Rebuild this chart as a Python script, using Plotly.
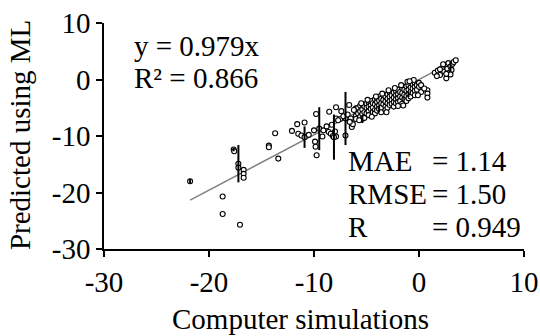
import plotly.graph_objects as go

# ---- data ----
sim = [
    -21.8, -18.7, -18.7, -17.05, -17.65, -17.6, -17.2, -17.2, -16.7, -16.7, -16.7,
    -14.3, -14.3, -13.7, -13.4, -12.1, -11.6, -11.5, -11.2, -10.9, -10.9, -10.5,
    -10.0, -9.9, -9.85, -9.75, -9.8, -9.5, -9.2, -9.1, -8.55, -8.6, -8.4, -8.2,
    -8.0, -7.9, -8.1, -7.9, -7.9, -7.5, -7.4, -7.0, -7.0, -6.65, -6.5, -6.4, -6.3,
    -6.0, -5.9,
    -6.0, -6.0, -6.0, -5.8, -5.8, -5.6, -5.6, -5.6, -5.4, -5.4, -5.4, -5.4,
    -5.2, -5.2, -5.2, -5.0, -5.0, -5.0, -4.8, -4.8, -4.8, -4.8,
    -4.6, -4.6, -4.6, -4.4, -4.4, -4.4, -4.2, -4.2, -4.2, -4.2,
    -4.0, -4.0, -4.0, -4.0, -3.8, -3.8, -3.8, -3.8, -3.6, -3.6, -3.6, -3.6,
    -3.4, -3.4, -3.4, -3.2, -3.2, -3.2, -3.2, -3.0, -3.0, -3.0, -3.0,
    -2.8, -2.8, -2.8, -2.8, -2.6, -2.6, -2.6, -2.4, -2.4, -2.4, -2.4,
    -2.2, -2.2, -2.2, -2.2, -2.0, -2.0, -2.0, -2.0, -1.8, -1.8, -1.8,
    -1.6, -1.6, -1.6, -1.6, -1.4, -1.4, -1.4, -1.3, -1.2, -1.2, -1.2, -1.2,
    -1.0, -1.0, -1.0, -1.0, -0.8, -0.8, -0.8, -0.6, -0.6, -0.6,
    -0.4, -0.4, -0.4, -0.4, -0.2, -0.2, 0.0, 0.0, 0.2, 0.2, 0.8, 0.8, 0.8,
    1.5, 1.8, 2.0, 2.2, 2.4, 2.5, 2.6, 2.7, 2.8, 2.9, 3.0, 3.1, 3.2, 3.3, 3.5,
    2.3, 2.0, 3.0, 1.7, 2.6,
    -5.5, -4.9, -4.1, -3.5, -2.9, -2.3, -1.7, -1.1, -0.5, -0.9, -6.2, -5.7,
    -4.5, -3.1, -2.0, -1.5, 0.5, -0.1, -8.8, -8.3, -7.7, -7.2, -6.8, -6.6,
]
pred = [
    -18.0, -20.7, -23.8, -25.7, -12.4, -12.7, -14.9, -15.6, -16.0, -16.7, -17.4,
    -11.7, -12.0, -9.5, -14.0, -9.1, -7.9, -9.6, -9.9, -7.6, -10.2, -9.8,
    -9.0, -11.0, -11.9, -13.4, -6.1, -8.7, -10.1, -9.0, -5.7, -9.3, -9.6, -10.0,
    -9.2, -10.1, -10.2, -4.9, -6.9, -7.0, -5.6, -6.9, -9.9, -4.5, -6.9, -8.4, -7.9,
    -5.1, -6.3,
    -5.2, -6.4, -7.0, -5.0, -6.0, -4.6, -5.6, -6.6, -4.4, -5.3, -6.1, -7.0,
    -4.8, -5.8, -6.8, -4.3, -5.0, -6.0, -4.0, -4.8, -5.6, -6.3,
    -3.8, -4.6, -5.2, -4.2, -5.0, -5.8, -3.5, -4.4, -5.4, -6.0,
    -3.3, -4.0, -4.8, -5.5, -3.0, -3.7, -4.6, -5.2, -3.4, -4.2, -5.0, -5.8,
    -2.8, -3.6, -4.4, -3.0, -3.9, -4.8, -5.4, -2.6, -3.4, -4.2, -5.0,
    -2.2, -3.0, -3.8, -4.5, -2.8, -3.6, -4.3, -2.3, -3.2, -4.0, -4.8,
    -2.0, -2.8, -3.5, -4.2, -1.8, -2.6, -3.3, -4.0, -2.2, -3.0, -3.8,
    -1.5, -2.4, -3.2, -4.3, -1.8, -2.7, -3.5, -3.5, -1.2, -2.0, -2.9, -3.8,
    -1.0, -1.8, -2.6, -3.3, -1.4, -2.2, -3.0, -0.9, -1.6, -2.4,
    -0.7, -1.3, -2.0, -2.8, -1.0, -1.8, -0.6, -1.3, -1.0, -2.2, -1.9, -2.5, -3.2,
    1.2, 1.6, 0.8, 2.0, 1.4, 2.6, 0.2, 1.9, 2.9, 1.2, 2.3, 1.7, 2.8, 3.1, 3.4,
    2.7, 1.8, 0.9, 0.6, 1.0,
    -4.2, -3.6, -3.0, -2.5, -1.9, -1.5, -1.0, -0.4, -0.1, -0.3, -5.4, -7.2,
    -6.6, -5.8, -4.7, -4.6, -1.6, -2.8, -8.3, -8.0, -7.2, -6.5, -6.2, -7.5,
]
err = [0.0] * len(sim)
err_points = {0: 0.4, 4: 0.3, 6: 3.3, 20: 1.9, 27: 3.8, 36: 4.0, 41: 4.7,
              60: 0.7, 88: 0.6, 140: 0.5, 171: 0.9}
for i, e in err_points.items():
    err[i] = e

slope = 0.979
r2_label = "R² = 0.866"
eq_label = "y = 0.979x"
stat_names = ["MAE", "RMSE", "R"]
stat_values = ["= 1.14", "= 1.50", "= 0.949"]
stat_y = [-14.4, -20.2, -26.1]

tick_vals = [-30, -20, -10, 0, 10]
tick_text = ["-30", "-20", "-10", "0", "10"]

FONT = "Liberation Serif, Times New Roman, serif"
FS = 29

fig = go.Figure()

fit_x = [min(sim), max(sim)]
fig.add_trace(go.Scatter(
    x=fit_x, y=[slope * v for v in fit_x], mode="lines",
    line=dict(color="#808080", width=1.5), hoverinfo="skip", showlegend=False,
))

fig.add_trace(go.Scatter(
    x=sim, y=pred, mode="markers",
    marker=dict(symbol="circle", size=5, color="white",
                line=dict(color="black", width=1.1)),
    showlegend=False,
))

# error bars drawn on top of the circles
fig.add_trace(go.Scatter(
    x=sim, y=pred, mode="markers",
    marker=dict(size=1, opacity=0),
    error_y=dict(type="data", array=err, visible=True, color="black",
                 thickness=2, width=0),
    hoverinfo="skip", showlegend=False,
))

annotations = [
    dict(x=-27.3, y=5.9, text=eq_label, xanchor="left", yanchor="middle",
         xref="x", yref="y"),
    dict(x=-27.3, y=0.2, text=r2_label, xanchor="left", yanchor="middle",
         xref="x", yref="y"),
]
for name, val, yy in zip(stat_names, stat_values, stat_y):
    annotations.append(dict(x=-6.97, y=yy, text=name, xanchor="left",
                            yanchor="middle", xref="x", yref="y"))
    annotations.append(dict(x=1.05, y=yy, text=val, xanchor="left",
                            yanchor="middle", xref="x", yref="y"))
# axis titles
annotations.append(dict(x=0.468, y=-0.31, xref="paper", yref="paper",
                        text="Computer simulations", xanchor="center",
                        yanchor="middle"))
annotations.append(dict(x=-0.2, y=0.504, xref="paper", yref="paper",
                        text="Predicted using ML", textangle=-90,
                        xanchor="center", yanchor="middle"))
for a in annotations:
    a.update(showarrow=False, font=dict(family=FONT, size=FS, color="black"))

axis_common = dict(
    showline=True, linecolor="black", linewidth=1.5, mirror=False,
    ticks="outside", ticklen=6, tickwidth=1.5, tickcolor="black",
    showgrid=False, zeroline=False, automargin=False,
    ticklabeloverflow="allow",
    tickvals=tick_vals, ticktext=tick_text, range=[-30, 10],
    tickfont=dict(family=FONT, size=FS, color="black"),
)

fig.update_layout(
    width=540, height=336,
    margin=dict(l=104, r=16, t=23, b=87),
    paper_bgcolor="white", plot_bgcolor="white",
    annotations=annotations,
    xaxis=axis_common,
    yaxis=axis_common,
)

# remove the default 8px page margin so the figure fills the window exactly
fig.write_html("out.html",
               config={"displayModeBar": False},
               post_script="document.body.style.margin='0';")
